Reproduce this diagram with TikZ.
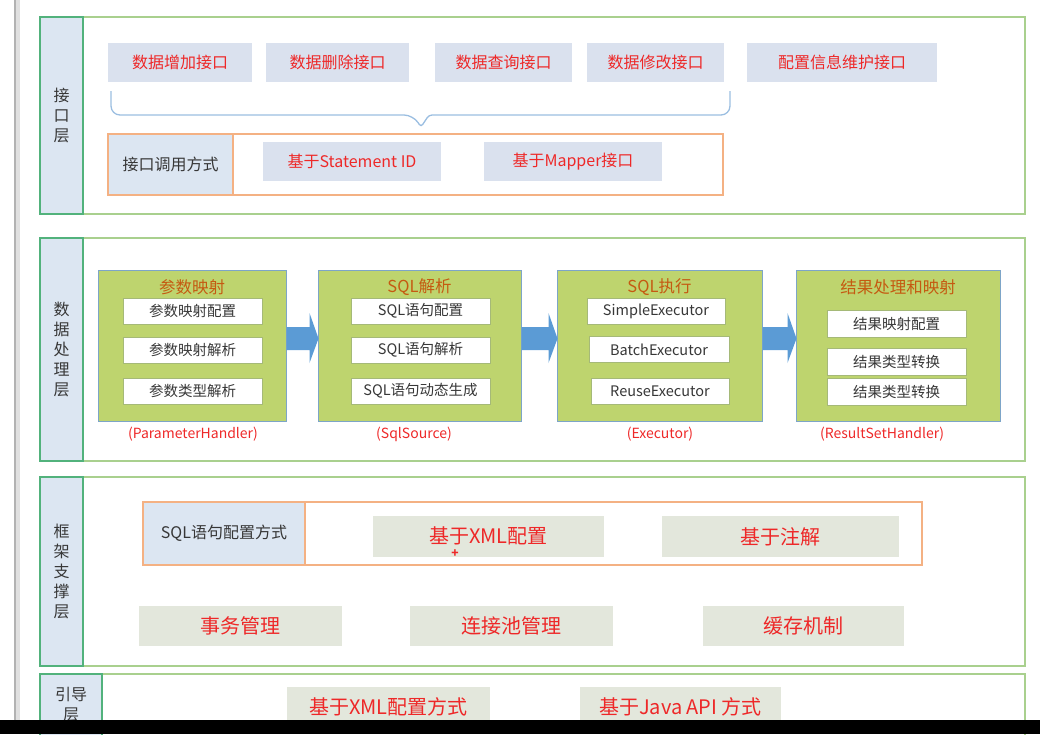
\documentclass[tikz,border=0pt]{standalone}
\usepackage{fontspec}
\setmainfont{Noto Sans CJK SC}
\usepackage{tikz}
\usetikzlibrary{calc}

\definecolor{layerline}{RGB}{169,208,142}
\definecolor{tabline}{RGB}{82,178,124}
\definecolor{tabfill}{RGB}{220,230,242}
\definecolor{apifill}{RGB}{218,225,238}
\definecolor{hotred}{RGB}{238,40,40}
\definecolor{rimorange}{RGB}{244,177,131}
\definecolor{stagefill}{RGB}{190,212,110}
\definecolor{stageline}{RGB}{125,165,200}
\definecolor{stagetitle}{RGB}{197,90,17}
\definecolor{flowblue}{RGB}{91,155,213}
\definecolor{basefill}{RGB}{227,231,220}
\definecolor{itemline}{RGB}{165,185,120}
\definecolor{bracecol}{RGB}{155,190,225}
\definecolor{inktext}{RGB}{55,55,55}

\begin{document}
\begin{tikzpicture}[x=1pt, y=-1pt,
    layer/.style={draw=layerline, line width=1.5pt},
    tab/.style={rectangle, draw=tabline, fill=tabfill, line width=1.5pt, inner sep=0pt, align=center, text=inktext, font=\fontsize{16}{20}\selectfont},
    api/.style={rectangle, fill=apifill, inner sep=0pt, minimum height=39pt, text=hotred, font=\fontsize{16}{18}\selectfont},
    rim/.style={rectangle, draw=rimorange, line width=1.2pt, inner sep=0pt},
    cell/.style={rim, fill=tabfill, text=inktext, font=\fontsize{16}{18}\selectfont},
    stage/.style={rectangle, draw=stageline, fill=stagefill, line width=1pt, inner sep=0pt, minimum height=151pt},
    stagehead/.style={text=stagetitle, inner sep=0pt, font=\fontsize{16.5}{18}\selectfont},
    item/.style={rectangle, draw=itemline, fill=white, inner sep=0pt, minimum width=139pt, minimum height=26pt, text=inktext, font=\fontsize{14.5}{16}\selectfont},
    handler/.style={text=hotred, inner sep=0pt, font=\fontsize{14}{16}\selectfont},
    base/.style={rectangle, fill=basefill, inner sep=0pt, minimum height=41pt, text=hotred, font=\fontsize{20}{22}\selectfont},
    flow/.style={fill=flowblue},
    bracket/.style={draw=bracecol, line width=1.3pt, rounded corners=9pt},
]
\useasboundingbox (0,0) rectangle (1040,734);

% Window edge
\draw[black!12, line width=5pt] (17,0) -- (17,720);
\draw[black!30, line width=2pt] (15,0) -- (15,720);

% Interface layer
\draw[layer] (40,17) rectangle (1025,214);
\node[tab, minimum width=43pt, minimum height=197pt] (l1) at (61.5,115.5) {接\\口\\层};
\node[api, minimum width=144pt] (i1) at (180,62.5) {数据增加接口};
\node[api, minimum width=143pt] (i2) at (337.5,62.5) {数据删除接口};
\node[api, minimum width=137pt] (i3) at (503.5,62.5) {数据查询接口};
\node[api, minimum width=137pt] (i4) at (655.5,62.5) {数据修改接口};
\node[api, minimum width=190pt] (i5) at (842,62.5) {配置信息维护接口};
\draw[bracket] (111,91) -- (111,115) -- (413,115) [rounded corners=3pt] -- (421,127) -- (429,115) [rounded corners=9pt] -- (730,115) -- (730,91);
\node[rim, minimum width=615pt, minimum height=61pt] (w1) at (415.5,164.5) {};
\node[cell, minimum width=125pt, minimum height=61pt] (c1) at (170.5,164.5) {接口调用方式};
\node[api, minimum width=178pt] (m1) at (352,161.5) {基于Statement ID};
\node[api, minimum width=178pt] (m2) at (573,161.5) {基于Mapper接口};

% Data processing layer
\draw[layer] (40,238) rectangle (1025,461);
\node[tab, minimum width=43pt, minimum height=223pt] (l2) at (61.5,349.5) {数\\据\\处\\理\\层};

\node[stage, minimum width=188pt] (p1) at (192,345.5) {};
\node[stagehead] (p1t) at (192,287) {参数映射};
\node[item] (p1a) at (192.5,311) {参数映射配置};
\node[item] (p1b) at (192.5,350) {参数映射解析};
\node[item] (p1c) at (192.5,391) {参数类型解析};
\node[handler] (p1h) at (193,434) {(ParameterHandler)};

\node[stage, minimum width=203pt] (p2) at (419.5,345.5) {};
\node[stagehead] (p2t) at (419.5,287) {SQL解析};
\node[item] (p2a) at (420.5,311) {SQL语句配置};
\node[item] (p2b) at (420.5,350) {SQL语句解析};
\node[item] (p2c) at (420.5,391) {SQL语句动态生成};
\node[handler] (p2h) at (414,434) {(SqlSource)};

\node[stage, minimum width=205pt] (p3) at (659.5,345.5) {};
\node[stagehead] (p3t) at (659.5,287) {SQL执行};
\node[item, minimum width=138pt] (p3a) at (656,311) {SimpleExecutor};
\node[item, minimum width=140pt] (p3b) at (659,349.5) {BatchExecutor};
\node[item, minimum width=138pt] (p3c) at (660,391.5) {ReuseExecutor};
\node[handler] (p3h) at (660,434) {(Executor)};

\node[stage, minimum width=204pt] (p4) at (898,345.5) {};
\node[stagehead] (p4t) at (898,287) {结果处理和映射};
\node[item, minimum height=27pt] (p4a) at (896.5,323.5) {结果映射配置};
\node[item, minimum height=27pt] (p4b) at (896.5,361.5) {结果类型转换};
\node[item, minimum height=27pt] (p4c) at (896.5,391.5) {结果类型转换};
\node[handler] (p4h) at (882,434) {(ResultSetHandler)};

% Arrows
\foreach \a/\b in {p1/p2, p2/p3, p3/p4} {
  \fill[flow] ($(\a.east)+(0,-18.5)$) -- ($(\b.west)+(-8,-18.5)$) -- ($(\b.west)+(-8,-32.5)$)
    -- ($(\b.west)+(1,-7)$) -- ($(\b.west)+(-8,17.5)$) -- ($(\b.west)+(-8,4.5)$) -- ($(\a.east)+(0,4.5)$) -- cycle;
}

% Framework support layer
\draw[layer] (40,477) rectangle (1025,666);
\node[tab, minimum width=43pt, minimum height=189pt] (l3) at (61.5,571.5) {框\\架\\支\\撑\\层};
\node[rim, minimum width=779pt, minimum height=63pt] (w2) at (532.5,533.5) {};
\node[cell, minimum width=162pt, minimum height=63pt] (c2) at (224,533.5) {SQL语句配置方式};
\node[base, minimum width=231pt] (x1) at (488.5,536.5) {\raisebox{2pt}{基于XML配置}};
\node[base, minimum width=237pt] (x2) at (780.5,536.5) {基于注解};
\node[text=hotred, inner sep=0pt, font=\fontsize{12}{12}\selectfont\bfseries] (plus) at (455,554) {+};
\node[base, minimum width=203pt, minimum height=40pt] (s1) at (240.5,626) {事务管理};
\node[base, minimum width=203pt, minimum height=40pt] (s2) at (511.5,626) {连接池管理};
\node[base, minimum width=201pt, minimum height=40pt] (s3) at (803.5,626) {缓存机制};

% Bootstrap layer
\draw[layer] (40,674) rectangle (1025,736);
\node[tab, minimum width=62pt, minimum height=62pt] (l4) at (71,705) {引导\\层};
\node[base, minimum width=203pt, minimum height=40pt] (b1) at (388.5,707) {基于XML配置方式};
\node[base, minimum width=201pt, minimum height=40pt] (b2) at (680.5,707) {基于Java API 方式};

% Screen edge
\fill[black] (0,720) rectangle (1040,734);

\end{tikzpicture}
\end{document}
